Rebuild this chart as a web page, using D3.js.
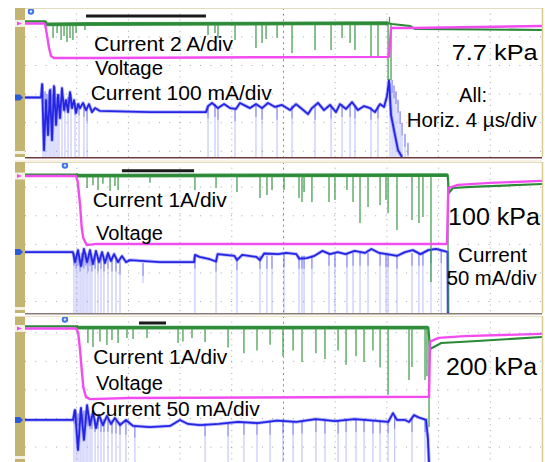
<!DOCTYPE html>
<html><head><meta charset="utf-8">
<script src="https://cdn.jsdelivr.net/npm/d3@7"></script>
<style>
html,body{margin:0;padding:0;background:#fff;}
svg{display:block;}
text{font-family:"Liberation Sans",Arial,sans-serif;fill:#000;}
</style></head><body>
<svg id="chart" width="545" height="462"></svg>
<script>
// Time base: 10 divisions x 4 µs. Values are [time µs, divisions above the panel floor].
const timeDomain = [0, 40];
const pressures = ["7.7 kPa", "100 kPa", "200 kPa"];

// ---- 7.7 kPa ----
const voltage1 = [[0,4.67],[1.47,4.67],[1.55,4.65],[1.70,4.27],[1.86,3.81],[2.01,3.53],[2.24,3.46],[5.80,3.46],[20,3.49],[28.16,3.50],[28.32,4.51],[30,4.51],[40,4.58]];
const currentHi1 = [[0,4.74],[1.55,4.74],[1.62,4.64],[5.0,4.65],[28.05,4.68],[28.39,4.65],[29.79,4.58],[30.17,4.48],[40,4.44]];
const spikesHi1 = [[2.17,4.16],[2.48,4.34],[2.79,4.09],[3.02,4.23],[3.25,4.02],[3.48,4.16],[3.71,4.09],[3.95,4.34],[4.64,4.44],[14.16,4.27],[14.70,4.34],[14.93,4.16],[16.25,4.09],[17.87,3.81],[18.34,3.99],[18.65,4.13],[19.50,4.16],[20.66,3.64],[22.44,3.74],[23.68,3.74],[24.53,4.16],[25.15,3.99],[25.53,3.74],[26.77,3.50],[27.31,3.50],[28.09,2.69],[28.20,4.90],[28.32,2.69]];
const currentLo1 = [[0,2.08],[1.24,2.08],[1.32,2.55],[1.47,0.24],[1.62,1.99],[1.78,0.77],[1.93,2.34],[2.09,0.59],[2.24,2.48],[2.40,1.12],[2.55,2.17],[2.71,1.36],[2.86,2.41],[3.02,1.64],[3.17,1.99],[3.33,1.57],[3.48,2.27],[3.64,1.71],[3.79,1.99],[3.95,1.54],[4.10,1.85],[4.26,1.71],[4.49,1.89],[4.72,1.64],[4.95,1.85],[5.18,1.57],[5.42,1.71],[5.80,1.61],[9.67,1.57],[14.00,1.57],[14.16,1.78],[14.47,1.89],[14.93,1.71],[15.40,1.85],[15.86,1.71],[16.32,1.68],[16.63,1.89],[17.10,1.78],[17.41,1.71],[17.87,1.85],[18.34,1.71],[18.80,1.89],[19.34,1.75],[19.88,1.82],[20.50,1.64],[20.97,1.85],[21.43,1.68],[21.90,1.50],[22.20,1.71],[22.67,1.89],[23.13,1.64],[23.60,1.82],[24.06,1.57],[24.37,1.85],[24.84,1.68],[25.30,1.92],[25.76,1.64],[26.23,1.78],[26.69,1.71],[27.08,1.57],[27.47,1.85],[27.78,1.75],[28.01,2.13],[28.16,2.69],[28.32,1.47],[28.55,0.94],[28.86,0.24],[29.17,0]];
const dipsLo1 = [[1.39,2.55],[1.55,2.3],[1.70,2.2],[1.86,2.3],[2.01,2.4],[2.17,2.2],[2.32,2.45],[2.48,2.1],[2.63,2.2],[2.86,2.4],[3.09,2.0],[3.33,2.1],[3.56,2.2],[3.87,1.9],[4.18,1.9],[4.56,1.85],[4.80,1.7],[14.16,1.8],[14.70,1.85],[14.93,1.75],[16.25,1.7],[17.87,1.85],[18.34,1.75],[19.50,1.75],[20.66,1.8],[22.44,1.75],[23.68,1.8],[24.53,1.85],[25.15,1.85],[25.53,1.8],[26.77,1.75],[27.31,1.8],[28.24,2.6],[28.40,2.69],[28.55,2.5],[28.70,2.3],[28.86,2.0],[29.02,1.6],[29.17,1.2],[29.40,0.8],[29.63,0.5]];

// ---- 100 kPa ----
const voltage2 = [[0,4.79],[3.95,4.79],[4.08,4.59],[4.26,3.78],[4.39,2.97],[4.51,2.62],[4.77,2.38],[5.42,2.41],[32.65,2.41],[32.75,4.37],[33.5,4.48],[36,4.55],[40,4.62]];
const currentHi2 = [[0,4.84],[3.95,4.84],[4.10,4.80],[32.70,4.82],[32.80,4.20],[33.10,4.37],[34.5,4.41],[40,4.51]];
const spikesHi2 = [[4.80,4.37],[5.26,4.47],[5.65,4.30],[6.03,4.52],[6.58,4.27],[6.96,4.44],[7.20,4.30],[9.67,4.55],[13.15,4.30],[14.78,4.37],[16.40,4.23],[18.18,4.02],[18.72,4.13],[19.11,4.30],[20.04,4.30],[21.20,4.02],[21.43,3.88],[21.59,4.23],[22.20,3.88],[23.52,3.88],[23.98,3.95],[24.91,4.30],[25.38,3.88],[25.92,3.15],[26.54,3.71],[27.47,3.78],[27.93,3.95],[28.09,3.50],[28.78,2.90],[29.94,3.25],[30.48,3.15],[30.79,3.36],[31.41,1.08],[32.73,0.03]];
const currentLo2 = [[0,2.13],[3.71,2.13],[3.87,1.78],[4.10,2.20],[4.33,1.64],[4.56,2.24],[4.80,1.78],[5.03,2.20],[5.26,1.71],[5.49,2.17],[5.73,1.78],[5.96,2.13],[6.19,1.75],[6.42,2.10],[6.65,1.82],[6.89,2.06],[7.20,1.78],[7.50,1.99],[7.81,1.78],[8.12,1.85],[10.44,1.78],[13.08,1.78],[13.15,2.03],[13.5,1.96],[14.3,1.88],[14.78,1.80],[14.9,2.06],[16.2,2.0],[16.40,1.85],[16.8,2.03],[17.9,1.96],[18.18,1.85],[18.5,2.08],[19.6,2.06],[20.2,2.10],[21.0,2.06],[21.2,1.90],[21.8,1.92],[22.4,2.0],[23.0,2.17],[23.6,2.06],[24.2,2.13],[24.8,2.06],[25.5,2.17],[26.3,2.10],[26.8,2.24],[27.4,2.10],[28.0,2.06],[28.8,2.0],[29.4,2.13],[30.0,2.2],[30.6,2.06],[31.2,2.2],[31.8,2.24],[32.4,2.17],[32.7,2.13],[32.73,0]];
const dipsLo2 = [[3.79,2.1],[3.95,2.0],[4.10,2.1],[4.26,1.9],[4.41,2.1],[4.56,2.0],[4.72,2.1],[4.87,1.9],[5.03,2.1],[5.18,1.9],[5.42,2.0],[5.65,1.9],[5.88,2.0],[6.11,1.9],[6.42,2.0],[6.73,1.9],[7.04,1.9],[7.35,1.8],[9.13,1.75,1.05],[13.15,2.0],[14.78,1.9],[16.40,1.95],[18.18,2.0],[18.72,2.0],[19.11,2.0],[20.04,2.05],[21.20,2.0],[21.43,2.0],[21.59,2.0],[22.20,2.0],[23.52,2.1],[23.98,2.05],[24.91,2.05],[25.38,2.1],[25.92,2.1],[26.54,2.1],[27.47,2.1],[27.93,2.05],[28.09,2.05],[28.78,2.0],[29.94,2.1],[30.48,2.1],[30.79,2.1],[31.41,2.2],[32.2,2.2]];

// ---- 200 kPa ----
const voltage3 = [[0,4.67],[3.95,4.67],[4.12,4.51],[4.26,3.92],[4.39,3.22],[4.51,2.62],[4.72,2.27],[5.03,2.20],[8,2.24],[31.26,2.28],[31.34,4.21],[32.0,4.34],[34,4.40],[40,4.48]];
const currentHi3 = [[0,4.74],[3.95,4.74],[4.10,4.70],[31.2,4.70],[31.35,3.95],[32.2,4.16],[35,4.23],[40,4.37]];
const spikesHi3 = [[4.87,4.16],[5.26,4.02],[5.80,4.21],[6.34,4.09],[6.73,4.27],[7.20,4.16],[7.89,4.34],[8.36,4.30],[9.44,4.34],[11.84,4.16],[12.22,4.21],[12.92,4.34],[13.93,4.20],[15.71,4.00],[16.94,3.80],[17.95,3.90],[18.96,4.10],[19.96,3.70],[20.74,3.90],[21.43,3.50],[22.51,3.80],[23.21,3.60],[24.22,3.90],[24.84,3.40],[25.61,3.70],[26.23,3.50],[26.92,3.90],[27.47,3.30],[28.09,2.34],[29.71,2.87],[29.94,3.32],[30.95,2.87],[31.10,3.0],[31.26,1.22]];
const currentLo3 = [[0,1.47],[3.71,1.47],[3.87,1.82],[4.10,0.42],[4.33,1.89],[4.56,0.77],[4.80,1.99],[5.03,1.29],[5.26,1.75],[5.49,1.19],[5.73,1.64],[6.03,1.29],[6.34,1.61],[6.65,1.33],[6.96,1.54],[7.35,1.29],[7.81,1.47],[8.36,1.26],[9.67,1.22],[11.22,1.26],[11.99,1.47],[12.61,1.33],[13.54,1.29],[15.0,1.33],[16.5,1.40],[18.0,1.36],[19.5,1.45],[21.0,1.40],[22.5,1.50],[24.0,1.43],[25.5,1.50],[27.0,1.45],[28.1,1.40],[28.47,1.71],[28.78,1.47],[29.40,1.47],[29.71,1.40],[30.10,1.64],[30.56,1.54],[31.03,1.47],[31.18,0.77],[31.26,0]];
const dipsLo3 = [[3.79,1.8],[3.95,1.8],[4.10,1.7],[4.26,1.8],[4.41,1.7],[4.56,1.8],[4.72,1.8],[4.87,1.7],[5.03,1.6],[5.18,1.6],[5.42,1.5],[5.65,1.6],[5.88,1.5],[6.11,1.5],[6.42,1.5],[6.73,1.45],[7.04,1.45],[7.35,1.4],[7.81,1.4],[8.5,1.3],[13.93,1.35],[15.71,1.35],[16.94,1.4],[17.95,1.4],[18.96,1.4],[19.96,1.45],[20.74,1.4],[21.43,1.45],[22.51,1.5],[23.21,1.45],[24.22,1.45],[24.84,1.5],[25.61,1.5],[26.23,1.5],[26.92,1.45],[27.47,1.45],[28.09,1.45],[28.6,1.6],[29.94,1.5],[30.95,1.5],[31.18,1.0]];

// breakdown → end of discharge, cursor bars, trigger times
const activeSpans = [[1.55,28.1],[3.95,32.7],[3.95,31.2]];
const cursorBars = [[4.72,14.0,4.93],[7.50,13.08,4.97],[8.82,10.91,4.86]];
const triggerTimes = [0.46,3.09,3.09];

const voltageSeries = [voltage1, voltage2, voltage3];
const hiSeries = [currentHi1, currentHi2, currentHi3];
const hiSpikes = [spikesHi1, spikesHi2, spikesHi3];
const loSeries = [currentLo1, currentLo2, currentLo3];
const loDips = [dipsLo1, dipsLo2, dipsLo3];

// annotation text per panel
const labels = [
  [{s:"Current 2 A/div",x:94,y:50.5,w:139,f:20},{s:"Voltage",x:95,y:75,w:68,f:20},{s:"Current 100 mA/div",x:90.7,y:100,w:181,f:20},
   {s:pressures[0],x:451.7,y:60,w:86,f:22},{s:"All:",x:459,y:101.7,w:28,f:20},{s:"Horiz. 4 µs/div",x:406.7,y:126.7,w:130,f:20}],
  [{s:"Current 1A/div",x:92.7,y:207.3,w:134,f:20},{s:"Voltage",x:96,y:240,w:67,f:20},
   {s:pressures[1],x:448,y:225,w:92,f:23},{s:"Current",x:458,y:261.7,w:69,f:20},{s:"50 mA/div",x:446.7,y:285,w:90,f:20}],
  [{s:"Current 1A/div",x:93.3,y:364,w:134,f:20},{s:"Voltage",x:96,y:390,w:67,f:20},{s:"Current 50 mA/div",x:90.7,y:416,w:169,f:20},
   {s:pressures[2],x:446,y:375,w:91,f:23}]
];

// ---- layout ----
const plotLeft = 25, plotRight = 542, divPx = 28.6;
const panelBox = [[8,157],[162,313],[316,462]];
const gridOffset = [0.2,0.4,0.52];
const colors = {green:"#2a8a36", spike:"#3a9846", pink:"#f24cf0", blue:"#2424e4", dip:"rgba(95,105,245,0.4)"};

const svg = d3.select("#chart");
const x = d3.scaleLinear().domain(timeDomain).range([plotLeft, plotRight]);

function valueAt(series, t){
  const i = d3.bisector(d => d[0]).left(series, t);
  if (i <= 0) return series[0][1];
  if (i >= series.length) return series[series.length-1][1];
  const a = series[i-1], b = series[i];
  return a[1] + (b[1]-a[1]) * (t-a[0]) / (b[0]-a[0]);
}

panelBox.forEach(([top, bottom], i) => {
  const y = d3.scaleLinear().domain([0, (bottom-top)/divPx]).range([bottom, top]);
  const line = d3.line().x(d => x(d[0])).y(d => y(d[1]));
  const g = svg.append("g");

  // left bezel strip
  g.append("rect").attr("x",15).attr("y",top).attr("width",plotLeft-15).attr("height",bottom-top).attr("fill","#c4b472");

  const clipId = "clip"+i;
  svg.append("clipPath").attr("id",clipId).append("rect")
    .attr("x",plotLeft).attr("y",top).attr("width",plotRight-plotLeft).attr("height",bottom-top);
  const p = g.append("g").attr("clip-path",`url(#${clipId})`);

  // graticule
  const vTicks = d3.range(4, 40, 4);
  p.selectAll(".gv").data(vTicks).join("line")
    .attr("x1",d=>x(d)).attr("x2",d=>x(d)).attr("y1",top).attr("y2",bottom)
    .attr("stroke", d => d===20 ? "#7f88b0" : "#a4a4b8").attr("stroke-width",1)
    .attr("stroke-dasharray", d => d===20 ? "2,3.7" : "1,4.7");
  const hTicks = d3.range(0,6).map(k => gridOffset[i]+k).filter(v => y(v) > top+2);
  p.selectAll(".gh").data(hTicks).join("line")
    .attr("x1",plotLeft).attr("x2",plotRight).attr("y1",d=>y(d)).attr("y2",d=>y(d))
    .attr("stroke","#a4a4b8").attr("stroke-width",1).attr("stroke-dasharray","1,9.3");

  // low-range current: dips, then trace
  p.selectAll(".dip").data(loDips[i]).join("line")
    .attr("x1",d=>x(d[0])).attr("x2",d=>x(d[0]))
    .attr("y1",d=>y(d[1])).attr("y2",d=>y(d[2]||0))
    .attr("stroke",colors.dip).attr("stroke-width",1.1);
  p.selectAll(".dipc").data(loDips[i]).join("line")
    .attr("x1",d=>x(d[0])).attr("x2",d=>x(d[0]))
    .attr("y1",d=>y(d[1])).attr("y2",d=>y(Math.max(d[2]||0, d[1]-0.45)))
    .attr("stroke","rgba(60,60,235,0.5)").attr("stroke-width",1.1);
  p.append("path").datum(loSeries[i]).attr("d",line)
    .attr("fill","none").attr("stroke","rgba(60,60,240,0.35)").attr("stroke-width",3.5).attr("stroke-linejoin","round");
  p.append("path").datum(loSeries[i]).attr("d",line)
    .attr("fill","none").attr("stroke",colors.blue).attr("stroke-width",1.8).attr("stroke-linejoin","round");

  // high-range current: baseline, noisy band, spikes
  const hi = hiSeries[i];
  p.append("path").datum(hi).attr("d",line)
    .attr("fill","none").attr("stroke",colors.green).attr("stroke-width",2.2);
  const [s0,s1] = activeSpans[i];
  const band = [[s0,valueAt(hi,s0)], ...hi.filter(d=>d[0]>s0 && d[0]<s1), [s1,valueAt(hi,s1)]];
  p.append("path").datum(band).attr("d",line)
    .attr("fill","none").attr("stroke",colors.green).attr("stroke-width",3.8).attr("stroke-opacity",0.9);
  p.selectAll(".spk").data(hiSpikes[i]).join("line")
    .attr("x1",d=>x(d[0])).attr("x2",d=>x(d[0]))
    .attr("y1",d=>y(valueAt(hi,d[0]))).attr("y2",d=>y(d[1]))
    .attr("stroke",colors.spike).attr("stroke-width",1.2);

  // voltage
  p.append("path").datum(voltageSeries[i]).attr("d",line)
    .attr("fill","none").attr("stroke",colors.pink).attr("stroke-width",2.4).attr("stroke-linejoin","round");

  // cursor bar
  const cb = cursorBars[i];
  p.append("line").attr("x1",x(cb[0])).attr("x2",x(cb[1])).attr("y1",y(cb[2])).attr("y2",y(cb[2]))
    .attr("stroke","#1a1a1a").attr("stroke-width",3);

  // trigger marker
  const tx = x(triggerTimes[i]);
  g.append("circle").attr("cx",tx).attr("cy",top+3.5).attr("r",3.2).attr("fill","#3d74e8");
  g.append("circle").attr("cx",tx).attr("cy",top+3.5).attr("r",1.2).attr("fill","#dfe8ff");

  // channel ground markers on the bezel
  const vy = y(voltageSeries[i][0][1]);
  g.append("rect").attr("x",15).attr("y",vy-3.5).attr("width",10).attr("height",7).attr("fill","#f4f0e4");
  g.append("path").attr("d",`M17,${vy-2} L22,${vy} L17,${vy+2} Z`).attr("fill",colors.pink);
  const by = y(loSeries[i][0][1]);
  g.append("path").attr("d",`M15,${by-3} L20,${by-3} L23,${by} L20,${by+3} L15,${by+3} Z`).attr("fill","#2a5ad8");
  g.append("rect").attr("x",15).attr("y",bottom-6).attr("width",10).attr("height",3).attr("fill","#f4f0e4");

  // frame
  g.append("line").attr("x1",plotLeft).attr("x2",plotRight).attr("y1",top+0.5).attr("y2",top+0.5)
    .attr("stroke","#e4dcc0").attr("stroke-width",1);
  if (i < 2) g.append("line").attr("x1",plotLeft).attr("x2",plotRight).attr("y1",bottom+0.7).attr("y2",bottom+0.7)
    .attr("stroke", i===0 ? "#6e3c3c" : "#8c7c7c").attr("stroke-width",1.4);
  g.append("line").attr("x1",plotRight+0.5).attr("x2",plotRight+0.5).attr("y1",top).attr("y2",bottom)
    .attr("stroke","#d6c992").attr("stroke-width",1.5);

  // annotations
  g.selectAll(".lbl").data(labels[i]).join("text")
    .attr("x",d=>d.x).attr("y",d=>d.y).attr("font-size",d=>d.f)
    .attr("textLength",d=>d.w).attr("lengthAdjust","spacingAndGlyphs")
    .text(d=>d.s);
});

// thin cream separators between panels
[159.5, 314.8].forEach(yy => svg.append("line").attr("x1",15).attr("x2",plotRight).attr("y1",yy+1.5).attr("y2",yy+1.5)
  .attr("stroke","#ece6c8").attr("stroke-width",1));
</script>
</body></html>
